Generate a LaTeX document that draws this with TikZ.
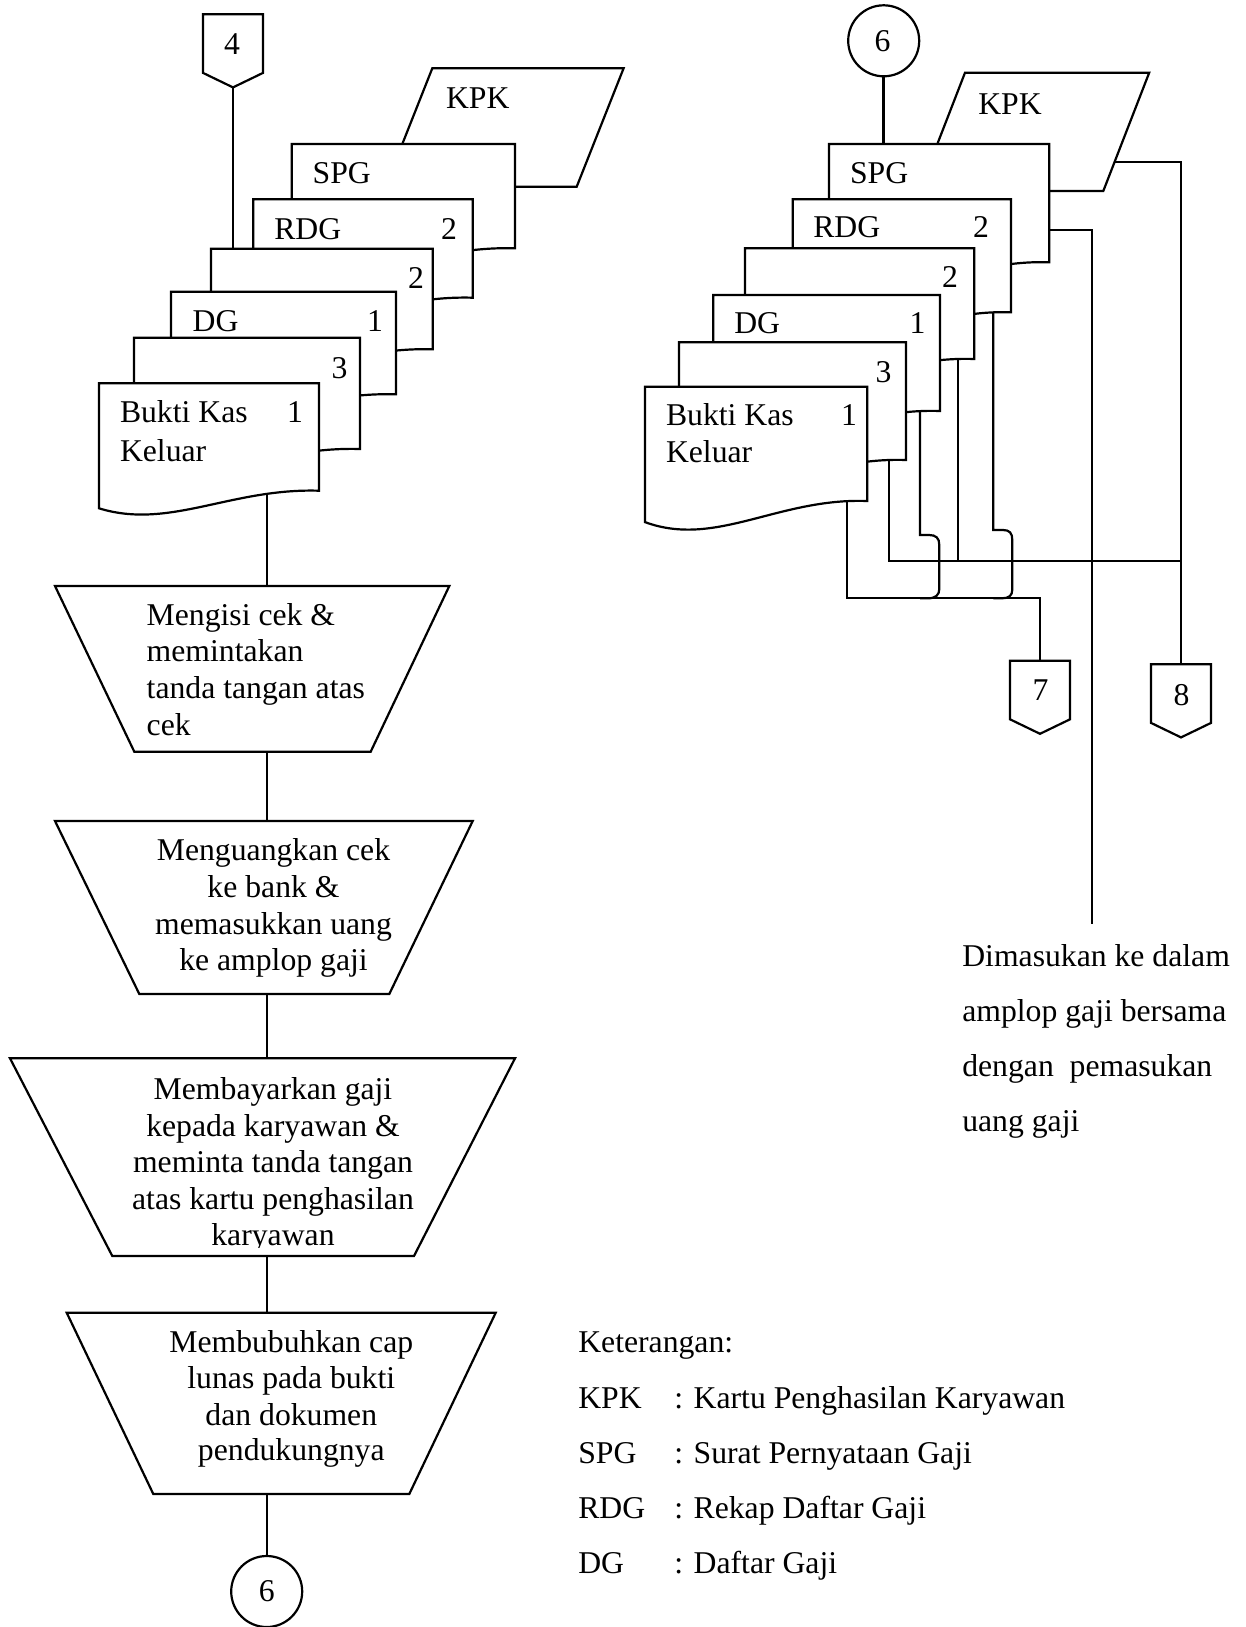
\documentclass[tikz,border=0pt]{standalone}
\usepackage{fontspec}
\setmainfont{Liberation Serif}
\usetikzlibrary{backgrounds}

% document symbol: left x, top y, right x, bottom-right y, name
\newcommand{\docsheet}[5]{%
  \pgfmathsetmacro\docw{#3-#1}%
  \pgfmathsetmacro\docxa{#1+0.318*\docw}%
  \pgfmathsetmacro\docxb{#1+0.598*\docw}%
  \pgfmathsetmacro\docya{#4+39.3*\docamp}%
  \pgfmathsetmacro\docyb{#4-2.7*\docamp}%
  \pgfmathsetmacro\docyl{#4+17.6*\docamp}%
  \draw[shp] (#1,#2) -- (#3,#2) -- (#3,#4)
    .. controls (\docxb,\docyb) and (\docxa,\docya) .. (#1,\docyl) -- cycle;
  \coordinate (#5) at (#1,#2);
}
% off-page connector: left x, top y, name
\newcommand{\offpage}[3]{%
  \draw[shp] (#1,#2) -- ++(60,0) -- ++(0,58.6) -- ++(-30,14.5) -- ++(-30,-14.5) -- cycle;
  \coordinate (#3) at (#1+30,#2);
}

\begin{document}
\begin{tikzpicture}[x=1pt,y=-1pt,
  ln/.style={line width=2.2pt, line join=miter},
  shp/.style={ln, fill=white},
  txt/.style={font=\fontsize{31.7}{36.7}\selectfont, inner sep=0pt, outer sep=0pt},
  lt/.style={txt, anchor=base west},
  ct/.style={txt, anchor=base},
]
\useasboundingbox (0,0) rectangle (1246,1627);

% ---------------- left column: document stack ----------------
\def\docamp{1}
\offpage{203}{14.3}{c4}
\node[ct] (c4t) at (232,54.3) {4};
\coordinate (c4b) at (233,88.3);

\draw[shp] (432.3,68.3) -- (623.6,68.3) -- (576.7,186.7) -- (385.4,186.7) -- cycle;
\coordinate (kpkL) at (432.3,68.3);
\node[lt] (kpkLt) at (446,109) {KPK};

\docsheet{291.7}{144}{515}{248.3}{spgL}
\node[lt] (spgLt) at (312.7,183.3) {SPG};
\docsheet{253.3}{199.3}{472.7}{297.7}{rdgL}
\node[lt] (rdgLt) at (274.3,239.3) {RDG};
\node[lt] (rdgLn) at (441,239.3) {2};
\docsheet{211}{248.7}{432.7}{349.3}{dtwoL}
\node[lt] (dtwoLn) at (408,288.3) {2};
\docsheet{171}{291.7}{396}{394.3}{dgL}
\node[lt] (dgLt) at (192.7,331.7) {DG};
\node[lt] (dgLn) at (367,331.7) {1};
\docsheet{134}{337.7}{360}{449}{dthreeL}
\node[lt] (dthreeLn) at (331.5,378.3) {3};
\docsheet{99}{383.3}{319}{490.7}{bkkL}
\node[lt] (bkkLa) at (120,422.7) {Bukti Kas};
\node[lt] (bkkLb) at (120,461) {Keluar};
\node[lt] (bkkLn) at (287,422.7) {1};
\coordinate (bkkLout) at (266.7,480);
\coordinate (dtwoLtop) at (233,248.7);

% ---------------- left column: manual operations ----------------
\draw[shp] (55,586) -- (449.3,586) -- (370.7,751.7) -- (134.3,751.7) -- cycle;
\coordinate (p1t) at (266.7,586); \coordinate (p1b) at (266.7,751.7);
\node[lt] (p1a) at (146.7,625) {Mengisi cek \&};
\node[lt] (p1c) at (146.7,661.7) {memintakan};
\node[lt] (p1d) at (146.7,698.3) {tanda tangan atas};
\node[lt] (p1e) at (146.7,735) {cek};

\draw[shp] (55,821) -- (472.7,821) -- (389.3,994) -- (139.3,994) -- cycle;
\coordinate (p2t) at (266.7,821); \coordinate (p2b) at (266.7,994);
\node[ct] (p2a) at (273.5,860.7) {Menguangkan cek};
\node[ct] (p2c) at (273.5,897.3) {ke bank \&};
\node[ct] (p2d) at (273.5,934) {memasukkan uang};
\node[ct] (p2e) at (273.5,970.7) {ke amplop gaji};

\draw[shp] (10,1058.3) -- (515,1058.3) -- (414,1256) -- (112.3,1256) -- cycle;
\coordinate (p3t) at (266.7,1058.3); \coordinate (p3b) at (266.7,1256);
\node[ct] (p3a) at (273,1099.3) {Membayarkan gaji};
\node[ct] (p3c) at (273,1136) {kepada karyawan \&};
\node[ct] (p3d) at (273,1172.7) {meminta tanda tangan};
\node[ct] (p3e) at (273,1209.3) {atas kartu penghasilan};
\begin{scope}
  \clip (0,1200) rectangle (1246,1247);
  \node[ct] (p3f) at (273,1245.5) {karyawan};
\end{scope}

\draw[shp] (66.7,1312.7) -- (495.7,1312.7) -- (409.3,1494) -- (153.3,1494) -- cycle;
\coordinate (p4t) at (266.7,1312.7); \coordinate (p4b) at (266.7,1494);
\node[ct] (p4a) at (291.3,1352.7) {Membubuhkan cap};
\node[ct] (p4c) at (291.3,1388.3) {lunas pada bukti};
\node[ct] (p4d) at (291.3,1425) {dan dokumen};
\node[ct] (p4e) at (291.3,1460) {pendukungnya};

\draw[shp] (266.7,1591.5) circle (35.5);
\node[txt] (c6b) at (266.7,1591.5) {6};
\coordinate (c6btop) at (266.7,1556);

% ---------------- right column: document stack ----------------
\def\docamp{1.2}
\draw[shp] (883.7,40.8) circle (35.5);
\node[txt] (c6r) at (882.5,41.5) {6};
\coordinate (c6rb) at (883.5,76.3);

\draw[shp] (965,72.7) -- (1149.2,72.7) -- (1103.3,191) -- (919.1,191) -- cycle;
\coordinate (kpkR) at (1112,161.7);
\node[lt] (kpkRt) at (978.3,114.3) {KPK};

\docsheet{829}{144}{1049.3}{262.3}{spgR}
\node[lt] (spgRt) at (850,183.3) {SPG};
\docsheet{792.7}{199.3}{1011}{312.3}{rdgR}
\node[lt] (rdgRt) at (813.3,237.3) {RDG};
\node[lt] (rdgRn) at (973,237.3) {2};
\docsheet{745}{248.3}{974.3}{359}{dtwoR}
\node[lt] (dtwoRn) at (942,287.3) {2};
\docsheet{713.3}{295}{940}{411}{dgR}
\node[lt] (dgRt) at (734.3,333.3) {DG};
\node[lt] (dgRn) at (909.5,333.3) {1};
\docsheet{679}{342.3}{906}{460}{dthreeR}
\node[lt] (dthreeRn) at (875.5,382.3) {3};
\docsheet{645}{386.7}{867.3}{501}{bkkR}
\node[lt] (bkkRa) at (666,425.7) {Bukti Kas};
\node[lt] (bkkRb) at (666,462.7) {Keluar};
\node[lt] (bkkRn) at (841,425.7) {1};
\coordinate (spgRtop) at (883.5,144);

% outgoing points on the right documents
\coordinate (bkkRout) at (846.7,490);
\coordinate (dthreeRout) at (889.3,450);
\coordinate (dgRout) at (920,400);
\coordinate (dtwoRout) at (957.7,350);
\coordinate (rdgRout) at (993.3,300);
\coordinate (spgRout) at (1040,230);

% junctions
\coordinate (jA) at (846.7,598.3);
\coordinate (jB) at (1040,598.3);
\coordinate (jC) at (889.3,560.7);
\coordinate (jD) at (1181,560.7);
\coordinate (jE) at (1091.7,230);
\coordinate (jF) at (1091.7,924);
\coordinate (jG) at (1181,161.7);

\offpage{1010}{660.7}{c7}
\node[txt] (c7t) at (1040.5,690) {7};
\offpage{1151}{664.3}{c8}
\node[txt] (c8t) at (1181.5,695) {8};

% note beside the long line
\node[lt] (noteA) at (962.3,966) {Dimasukan ke dalam};
\node[lt] (noteB) at (962.3,1021) {amplop gaji bersama};
\node[lt] (noteC) at (962.3,1076) {dengan\ \ pemasukan};
\node[lt] (noteD) at (962.3,1131) {uang gaji};

% legend
\node[lt] (legT) at (578.3,1352.7) {Keterangan:};
\node[lt] (legKa) at (578.3,1408.3) {KPK};
\node[lt] (legKb) at (674.3,1408.3) {: Kartu Penghasilan Karyawan};
\node[lt] (legSa) at (578.3,1463.3) {SPG};
\node[lt] (legSb) at (674.3,1463.3) {: Surat Pernyataan Gaji};
\node[lt] (legRa) at (578.3,1518.3) {RDG};
\node[lt] (legRb) at (674.3,1518.3) {: Rekap Daftar Gaji};
\node[lt] (legDa) at (578.3,1573.3) {DG};
\node[lt] (legDb) at (674.3,1573.3) {: Daftar Gaji};

% ---------------- flow lines (behind the symbols) ----------------
\begin{pgfonlayer}{background}
  \draw[ln] (c4b) -- (dtwoLtop);
  \draw[ln] (bkkLout) -- (p1t);
  \draw[ln] (p1b) -- (p2t);
  \draw[ln] (p2b) -- (p3t);
  \draw[ln] (p3b) -- (p4t);
  \draw[ln] (p4b) -- (c6btop);

  \draw[ln] (c6rb) -- (spgRtop);
  \draw[ln] (bkkRout) -- (jA) -- (jB) -- (c7);
  \draw[ln] (dthreeRout) -- (jC) -- (jD);
  \draw[ln] (dtwoRout) -- (dtwoRout |- jC);
  \draw[ln] (dgRout) -- (920,535) -- (929,535)
     .. controls (936,535) and (939.3,538) .. (939.3,545) -- (939.3,589)
     .. controls (939.3,595) and (935.5,598.3) .. (928,598.3) -- (920,598.3);
  \draw[ln] (rdgRout) -- (993.3,530) -- (1003,530)
     .. controls (1009.5,530) and (1012.3,533) .. (1012.3,540) -- (1012.3,589.5)
     .. controls (1012.3,595.5) and (1009,598.3) .. (1002,598.3) -- (993.3,598.3);
  \draw[ln] (spgRout) -- (jE) -- (jF);
  \draw[ln] (kpkR) -- (jG) -- (c8);
\end{pgfonlayer}
\end{tikzpicture}
\end{document}
